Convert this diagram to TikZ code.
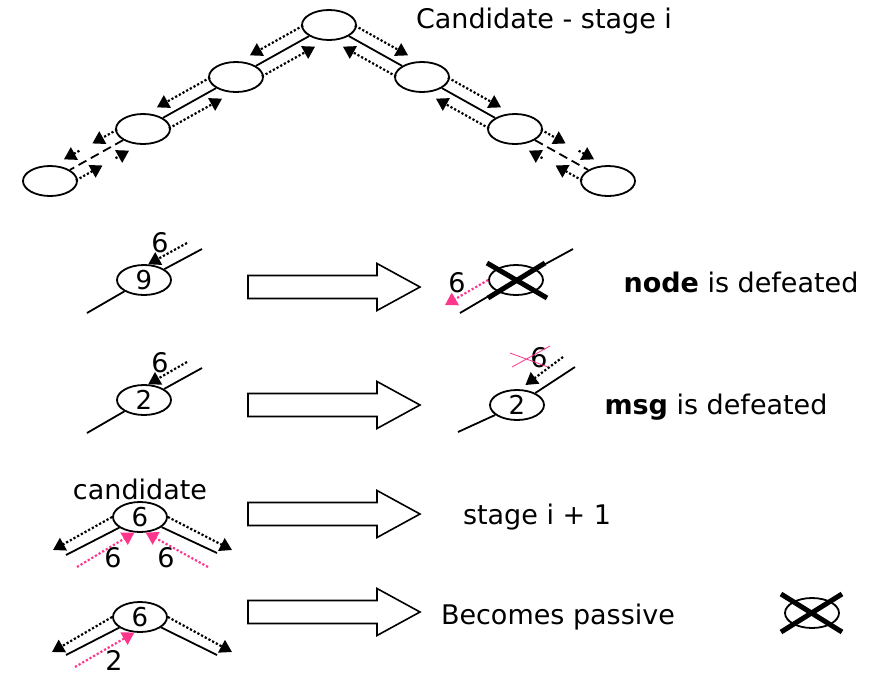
\documentclass[tikz,border=0pt]{standalone}
\usepackage{fontspec}
\setmainfont{DejaVu Sans}
\usetikzlibrary{arrows.meta}
\usetikzlibrary{shapes.geometric}
\usetikzlibrary{positioning}
\usetikzlibrary{calc}
\usetikzlibrary{math}
\definecolor{msgpink}{RGB}{255,55,140}
\tikzstyle{proc} = [ellipse, draw, line width=1.8pt, fill=white, minimum width=54pt, minimum height=30pt, inner sep=0pt, font=\fontsize{26}{30}\selectfont]
\tikzstyle{link} = [line width=1.8pt]
\tikzstyle{msg} = [line width=2.2pt, dash pattern=on 2.2pt off 2pt, -{Triangle[length=12pt,width=14pt]}]
\tikzstyle{pinkmsg} = [msg, msgpink]
\tikzstyle{killx} = [line width=5pt]
\tikzstyle{hollow} = [line width=1.6pt, fill=white]
\tikzstyle{lbl} = [font=\fontsize{27}{32}\selectfont, inner sep=0pt, anchor=base]
\tikzstyle{lup} = [transform canvas={shift={(-6,-10.5)}}]
\tikzstyle{ldn} = [transform canvas={shift={(6,10.5)}}]
\tikzstyle{rup} = [transform canvas={shift={(6,-10.5)}}]
\tikzstyle{rdn} = [transform canvas={shift={(-6,10.5)}}]

\begin{document}
\begin{tikzpicture}[x=1pt, y=-1pt, node distance=1pt]

  \tikzmath{\tx = 329; \ty = 25; \dx = 93; \dy = 52;}
  \tikzmath{\ax = 248; \sl = 129; \hl = 43; \sw = 11.5; \hw = 23.5;}

  \useasboundingbox (0,0) rectangle (873,683);

  % ring at stage i
  \node[proc] (top) at (\tx,\ty) {};
  \node[proc] (L1) at (\tx-\dx,\ty+\dy) {};
  \node[proc] (L2) at (\tx-2*\dx,\ty+2*\dy) {};
  \node[proc] (L3) at (\tx-3*\dx,\ty+3*\dy) {};
  \node[proc] (R1) at (\tx+\dx,\ty+\dy) {};
  \node[proc] (R2) at (\tx+2*\dx,\ty+2*\dy) {};
  \node[proc] (R3) at (\tx+3*\dx,\ty+3*\dy) {};
  \node[lbl] (title) at (544,28) {Candidate - stage i};

  \draw[link] (top) -- (L1);
  \draw[link] (L1) -- (L2);
  \draw[link, dash pattern=on 9pt off 5pt] (L2) -- (L3);
  \draw[link] (top) -- (R1);
  \draw[link] (R1) -- (R2);
  \draw[link, dash pattern=on 9pt off 5pt] (R2) -- (R3);

  \draw[msg, lup] (top) -- (L1);
  \draw[msg, ldn] (L1) -- (top);
  \draw[msg, lup] (L1) -- (L2);
  \draw[msg, ldn] (L2) -- (L1);
  \draw[msg, lup] (L2) -- ($(L2)!0.48!(L3)$);
  \draw[msg, lup] ($(L2)!0.62!(L3)$) -- (L3);
  \draw[msg, ldn] (L3) -- ($(L3)!0.5!(L2)$);
  \draw[msg, ldn] ($(L3)!0.64!(L2)$) -- (L2);

  \draw[msg, rup] (top) -- (R1);
  \draw[msg, rdn] (R1) -- (top);
  \draw[msg, rup] (R1) -- (R2);
  \draw[msg, rdn] (R2) -- (R1);
  \draw[msg, rup] (R2) -- ($(R2)!0.48!(R3)$);
  \draw[msg, rup] ($(R2)!0.62!(R3)$) -- (R3);
  \draw[msg, rdn] (R3) -- ($(R3)!0.5!(R2)$);
  \draw[msg, rdn] ($(R3)!0.64!(R2)$) -- (R2);

  % case 1: node is defeated
  \coordinate (a1) at (87,313);
  \coordinate (b1) at (202,249);
  \coordinate (m1) at (187,243);
  \node[proc] (c9) at (144,280) {9};
  \draw[link] (a1) -- (c9);
  \draw[link] (c9) -- (b1);
  \draw[msg] (m1) -- (c9.75);
  \node[lbl] (n1) at (160,252) {6};

  \coordinate (a2) at (460,313);
  \coordinate (b2) at (573,249);
  \coordinate (p1) at (445,305);
  \node[proc] (d9) at (516,280) {};
  \draw[link] (a2) -- (d9);
  \draw[link] (d9) -- (b2);
  \draw[killx] ([shift={(-29,-17)}]d9.center) -- ([shift={(31,18)}]d9.center);
  \draw[killx] ([shift={(-28,18)}]d9.center) -- ([shift={(29,-17)}]d9.center);
  \draw[pinkmsg] (d9.west) -- (p1);
  \node[lbl] (n2) at (457,292) {6};
  \node[lbl] (t1) at (741,292) {\textbf{node} is defeated};

  % case 2: msg is defeated
  \coordinate (a3) at (87,433);
  \coordinate (b3) at (202,368);
  \coordinate (m3) at (187,362);
  \node[proc] (c2) at (144,400) {2};
  \draw[link] (a3) -- (c2);
  \draw[link] (c2) -- (b3);
  \draw[msg] (m3) -- (c2.75);
  \node[lbl] (n3) at (160,372) {6};

  \coordinate (a4) at (458,432);
  \coordinate (b4) at (575,367);
  \coordinate (m4) at (563,357);
  \node[proc] (d2) at (517,405) {2};
  \draw[link] (a4) -- (d2);
  \draw[link] (d2) -- (b4);
  \draw[msg, shorten >=7pt] (m4) -- (d2.80);
  \node[lbl] (n4) at (539,367) {6};
  \draw[msgpink, line width=0.8pt] ([shift={(-29,-14)}]n4.base) -- ([shift={(9,0)}]n4.base);
  \draw[msgpink, line width=0.8pt] ([shift={(-27,0)}]n4.base) -- ([shift={(11,-21)}]n4.base);
  \node[lbl] (t2) at (716,414) {\textbf{msg} is defeated};

  % case 3: both messages come back
  \coordinate (a5) at (66,555);
  \coordinate (b5) at (217,553);
  \coordinate (q1) at (53,550);
  \coordinate (q2) at (232,550);
  \coordinate (r1) at (77,567);
  \coordinate (r2) at (208,567);
  \node[proc] (c6) at (140,517) {6};
  \node[lbl, anchor=south, above=1pt of c6] (cand) {candidate};
  \draw[link] (a5) -- (c6);
  \draw[link] (c6) -- (b5);
  \draw[msg] (c6.west) -- (q1);
  \draw[msg] (c6.east) -- (q2);
  \draw[pinkmsg] (r1) -- (c6.250);
  \draw[pinkmsg] (r2) -- (c6.290);
  \node[lbl] (n5) at (113,567) {6};
  \node[lbl] (n6) at (166,567) {6};
  \node[lbl] (t3) at (537,524) {stage i + 1};

  % case 4: smaller id comes back
  \coordinate (a6) at (66,655);
  \coordinate (b6) at (217,655);
  \coordinate (q3) at (52,652);
  \coordinate (q4) at (232,652);
  \coordinate (r3) at (75,667);
  \node[proc] (c7) at (140,617) {6};
  \draw[link] (a6) -- (c7);
  \draw[link] (c7) -- (b6);
  \draw[msg] (c7.west) -- (q3);
  \draw[msg] (c7.east) -- (q4);
  \draw[pinkmsg] (r3) -- (c7.250);
  \node[lbl] (n7) at (114,670) {2};
  \node[lbl] (t4) at (558,624) {Becomes passive};

  \node[proc] (x2) at (812,613) {};
  \draw[killx] ([shift={(-31,-19)}]x2.center) -- ([shift={(30,19)}]x2.center);
  \draw[killx] ([shift={(-31,19)}]x2.center) -- ([shift={(30,-19)}]x2.center);

  % big arrows
  \draw[hollow] (\ax,287-\sw) -- ++(\sl,0) -- ++(0,\sw-\hw) -- ++(\hl,\hw) -- ++(-\hl,\hw) -- ++(0,\sw-\hw) -- ++(-\sl,0) -- cycle;
  \draw[hollow] (\ax,405-\sw) -- ++(\sl,0) -- ++(0,\sw-\hw) -- ++(\hl,\hw) -- ++(-\hl,\hw) -- ++(0,\sw-\hw) -- ++(-\sl,0) -- cycle;
  \draw[hollow] (\ax,514-\sw) -- ++(\sl,0) -- ++(0,\sw-\hw) -- ++(\hl,\hw) -- ++(-\hl,\hw) -- ++(0,\sw-\hw) -- ++(-\sl,0) -- cycle;
  \draw[hollow] (\ax,612-\sw) -- ++(\sl,0) -- ++(0,\sw-\hw) -- ++(\hl,\hw) -- ++(-\hl,\hw) -- ++(0,\sw-\hw) -- ++(-\sl,0) -- cycle;

\end{tikzpicture}
\end{document}
